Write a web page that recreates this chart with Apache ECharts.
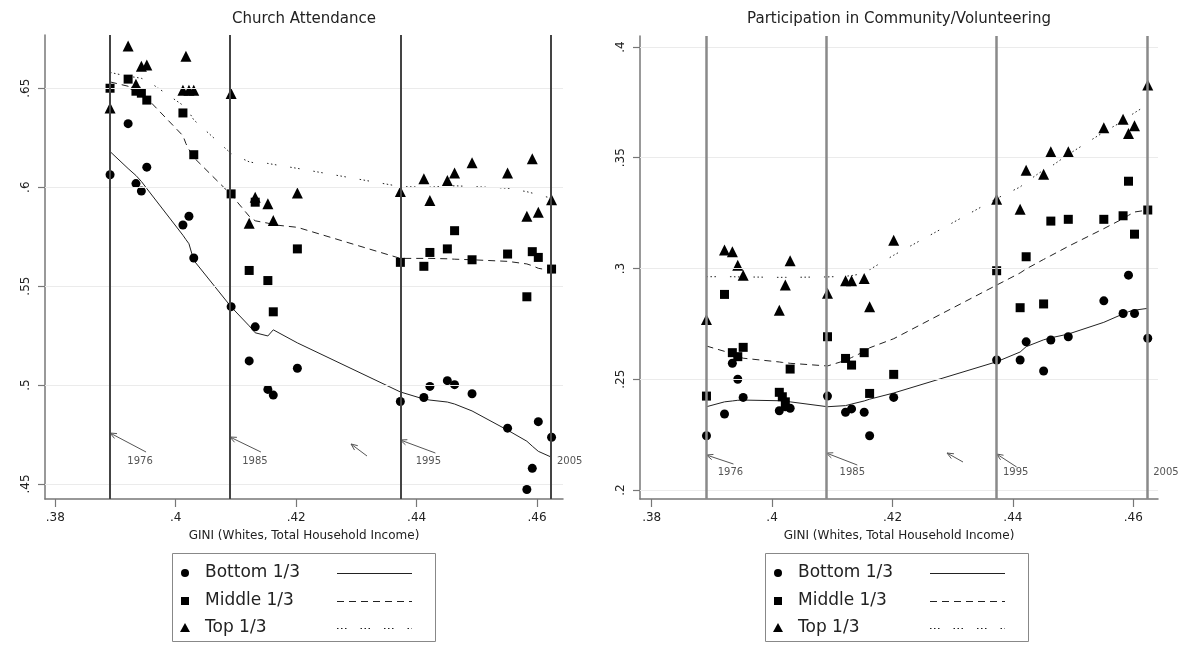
<!DOCTYPE html>
<html><head><meta charset="utf-8">
<script src="https://cdn.jsdelivr.net/npm/echarts@6/dist/echarts.min.js"></script>
<style>html,body{margin:0;padding:0;background:#fff}#c{width:1187px;height:646px}</style>
</head><body><div id="c"></div>
<script>
// ---- data ----
const gini = [.3891,.3921,.3934,.3943,.3952,.4012,.4017,.4022,.4030,.4092,.4122,.4132,.4153,.4162,.4202,.4373,.4412,.4422,.4451,.4463,.4492,.4551,.4583,.4592,.4602,.4624];

const churchBottom = [.6063,.6321,.6018,.5980,.6101,.5809,null,.5853,.5642,.5396,.5122,.5294,.4978,.4949,.5085,.4917,.4937,.4993,.5022,.5002,.4956,.4782,.4472,.4579,.4815,.4736];
const churchMiddle = [.6500,.6546,.6485,.6475,.6440,.6375,null,null,.6164,.5966,.5579,.5924,.5528,.5370,.5688,.5620,.5600,.5670,.5688,.5780,.5633,.5662,.5446,.5674,.5645,.5586];
const churchTop    = [.6400,.6713,.6520,.6611,.6618,.6490,.6662,.6490,.6490,.6473,.5817,.5949,.5916,.5831,.5971,.5978,.6042,.5932,.6034,.6071,.6123,.6071,.5853,.6144,.5873,.5936];
const churchBottomFit = [.6180,.6094,.6059,.6029,.5993,.5757,.5735,.5714,.5630,.5395,.5299,.5264,.5248,.5279,.5213,.4965,.4929,.4924,.4914,.4904,.4869,.4772,.4716,.4691,.4665,.4635];
const churchMiddleFit = [.6532,.6510,.6490,.6465,.6450,.6260,.6220,.6190,.6150,.5962,.5853,.5830,.5818,.5810,.5797,.5640,.5640,.5640,.5638,.5636,.5633,.5625,.5612,.5603,.5590,.5578];
const churchTopFit    = [.6580,.6560,.6555,.6550,.6540,.6414,.6400,.6380,.6340,.6170,.6128,.6122,.6120,.6115,.6095,.6003,.6000,.6000,.6005,.6007,.6003,.5995,.5977,.5970,.5960,.5945];

const volBottom = [.2245,.2343,.2572,.2500,.2418,.2358,null,.2376,.2369,.2424,.2351,.2366,.2351,.2245,.2418,.2587,.2587,.2669,.2537,.2677,.2692,.2854,.2797,.2970,.2797,.2685];
const volMiddle = [.2424,.2883,.2620,.2602,.2644,.2441,.2421,.2398,.2546,.2692,.2594,.2564,.2620,.2436,.2522,.2990,.2823,.3053,.2840,.3214,.3222,.3222,.3238,.3394,.3155,.3264];
const volTop    = [.2770,.3083,.3076,.3015,.2970,.2812,null,.2925,.3035,.2888,.2945,.2945,.2955,.2827,.3128,.3313,.3268,.3444,.3426,.3527,.3527,.3635,.3674,.3610,.3644,.3828];
const volBottomFit = [.2376,.2398,.2402,.2405,.2406,.2403,.2402,.2401,.2398,.2376,.2381,.2388,.2402,.2410,.2438,.2579,.2623,.2647,.2678,.2687,.2704,.2757,.2795,.2805,.2812,.2820];
const volMiddleFit = [.2650,.2626,.2615,.2603,.2595,.2578,.2576,.2575,.2572,.2560,.2585,.2598,.2625,.2642,.2683,.2925,.2980,.2998,.3041,.3058,.3100,.3180,.3225,.3240,.3255,.3264];
const volTopFit    = [.2963,.2963,.2963,.2962,.2962,.2960,.2960,.2960,.2960,.2962,.2965,.2968,.2978,.2995,.3060,.3316,.3368,.3390,.3445,.3460,.3515,.3616,.3666,.3685,.3703,.3740];

const xTicks = [.38,.40,.42,.44,.46];
const churchTicks = [.45,.50,.55,.60,.65];
const volTicks = [.20,.25,.30,.35,.40];
const eventYears = ['1976','1985','1995','2005'];
const eventGini = [.3891,.4090,.4373,.4623];
const groups = ['Bottom 1/3','Middle 1/3','Top 1/3'];
const titles = ['Church Attendance','Participation in Community/Volunteering'];
const xTitle = 'GINI (Whites, Total Household Income)';

// ---- chart ----
const FONT = 'DejaVu Sans';
const fmt = v => String(+v.toFixed(2)).replace(/^0/, '');
const pairs = arr => gini.map((g,i)=>[g,arr[i]]).filter(p=>p[1]!=null);

function xAxis(grid, min, max){
  return {gridIndex:grid,type:'value',min,max,
    axisLine:{show:true,onZero:false,lineStyle:{color:'#777',width:1.5}},
    axisTick:{show:true,length:8,customValues:xTicks,lineStyle:{color:'#777',width:1.2}},
    axisLabel:{customValues:xTicks,formatter:fmt,fontSize:12,color:'#222',margin:13,fontFamily:FONT},
    splitLine:{show:false},
    name:xTitle,nameLocation:'middle',nameGap:31,
    nameTextStyle:{fontSize:12,color:'#222',fontFamily:FONT}};
}
function yAxis(grid, min, max, ticks){
  return {gridIndex:grid,type:'value',min,max,
    axisLine:{show:true,onZero:false,lineStyle:{color:'#777',width:1.5}},
    axisTick:{show:true,length:7,customValues:ticks,lineStyle:{color:'#777',width:1.2}},
    axisLabel:{customValues:ticks,formatter:fmt,fontSize:12,color:'#222',rotate:90,margin:13,fontFamily:FONT},
    splitLine:{show:false}};
}
function panel(idx, b, m, t, bf, mf, tf, ticks, vcol, vwidth){
  const ax = {xAxisIndex:idx,yAxisIndex:idx};
  const mkStyle = {color:'#000',opacity:1};
  return [
    Object.assign({type:'line',data:[],silent:true,z:1,
      markLine:{silent:true,symbol:'none',animation:false,precision:6,label:{show:false},
        data:[...ticks.map(v=>({yAxis:v,lineStyle:{color:'#ebebeb',width:1,type:'solid'}})),
              ...eventGini.map(v=>({xAxis:v,lineStyle:{color:vcol,width:vwidth,type:'solid'}}))]}},ax),
    Object.assign({type:'line',data:pairs(bf),showSymbol:false,symbol:'none',z:2,lineStyle:{color:'#222',width:1,type:'solid'}},ax),
    Object.assign({type:'line',data:pairs(mf),showSymbol:false,symbol:'none',z:2,lineStyle:{color:'#222',width:1,type:[7,5]}},ax),
    Object.assign({type:'line',data:pairs(tf),showSymbol:false,symbol:'none',z:2,lineStyle:{color:'#222',width:1,type:[1.5,2.5,1.5,2.5,1.5,14]}},ax),
    Object.assign({type:'scatter',name:groups[0],data:pairs(b),symbol:'circle',symbolSize:9,itemStyle:mkStyle,z:3},ax),
    Object.assign({type:'scatter',name:groups[1],data:pairs(m),symbol:'rect',symbolSize:9,itemStyle:mkStyle,z:3},ax),
    Object.assign({type:'scatter',name:groups[2],data:pairs(t),symbol:'triangle',symbolSize:11,itemStyle:mkStyle,z:3},ax)
  ];
}

const chart = echarts.init(document.getElementById('c'), null, {renderer:'canvas'});
chart.setOption({
  animation:false,
  backgroundColor:'#fff',
  grid:[{left:45,top:35,width:518,height:464},{left:640,top:36,width:518,height:463}],
  xAxis:[xAxis(0,.3783,.4643), xAxis(1,.37806,.4641)],
  yAxis:[yAxis(0,.4424,.6769,churchTicks), yAxis(1,.19594,.40496,volTicks)],
  series:[...panel(0,churchBottom,churchMiddle,churchTop,churchBottomFit,churchMiddleFit,churchTopFit,churchTicks,'#444',2),
          ...panel(1,volBottom,volMiddle,volTop,volBottomFit,volMiddleFit,volTopFit,volTicks,'#8a8a8a',2.5)]
});

// ---- annotations, titles, legends ----
const g = [];
function txt(x,y,s,size,align,color){
  g.push({type:'text',x,y,style:{text:s,fontSize:size,fontFamily:FONT,fill:color||'#222',align:align||'center',verticalAlign:'middle'}});
}
function arrow(tip,tail){
  const st={stroke:'#555',lineWidth:1};
  g.push({type:'line',shape:{x1:tail[0],y1:tail[1],x2:tip[0],y2:tip[1]},style:st});
  const a=Math.atan2(tail[1]-tip[1],tail[0]-tip[0]), L=7;
  [0.4,-0.4].forEach(d=>g.push({type:'line',shape:{x1:tip[0],y1:tip[1],x2:tip[0]+L*Math.cos(a+d),y2:tip[1]+L*Math.sin(a+d)},style:st}));
}
function annotate(gridIdx, yLbl, yTip, dxs, free){
  eventGini.forEach((v,i)=>{
    const px = chart.convertToPixel({gridIndex:gridIdx},[v,0])[0];
    if(i<3){
      arrow([px, yTip[i]],[px+dxs[i][0], yTip[i]+dxs[i][1]]);
      txt(px+dxs[i][2], yLbl, eventYears[i], 10, 'center', '#555');
    } else {
      txt(px+6, yLbl, eventYears[i], 10, 'left', '#555');
    }
  });
  arrow(free[0],free[1]);
}
annotate(0, 461, [433,437,440], [[36,19,30],[31,15,25],[35,13,28]], [[351,444],[367,456]]);
annotate(1, 472, [455,453,454], [[27,9,24],[31,12,26],[20,13,19]], [[947,453],[963,462]]);

txt(304,19,titles[0],15,'center','#222');
txt(899,19,titles[1],15,'center','#222');

function legend(x0){
  g.push({type:'rect',shape:{x:x0+0.5,y:553.5,width:263,height:88},style:{fill:'none',stroke:'#888',lineWidth:1}});
  const ys=[573,601,628];
  const mk=[
    {type:'circle',shape:{cx:x0+13,cy:ys[0],r:4},style:{fill:'#000'}},
    {type:'rect',shape:{x:x0+9,y:ys[1]-4,width:8,height:8},style:{fill:'#000'}},
    {type:'polygon',shape:{points:[[x0+13,ys[2]-5],[x0+8,ys[2]+4],[x0+18,ys[2]+4]]},style:{fill:'#000'}}
  ];
  mk.forEach(m=>g.push(m));
  const dashes=[null,[7,5],[1.5,2.5,1.5,2.5,1.5,14]];
  groups.forEach((s,i)=>{
    txt(x0+33,ys[i],s,17,'left','#222');
    g.push({type:'line',shape:{x1:x0+165,y1:ys[i]+0.5,x2:x0+240,y2:ys[i]+0.5},style:{stroke:'#222',lineWidth:1,lineDash:dashes[i]}});
  });
}
legend(172);
legend(765);

chart.setOption({graphic:g});
</script></body></html>
